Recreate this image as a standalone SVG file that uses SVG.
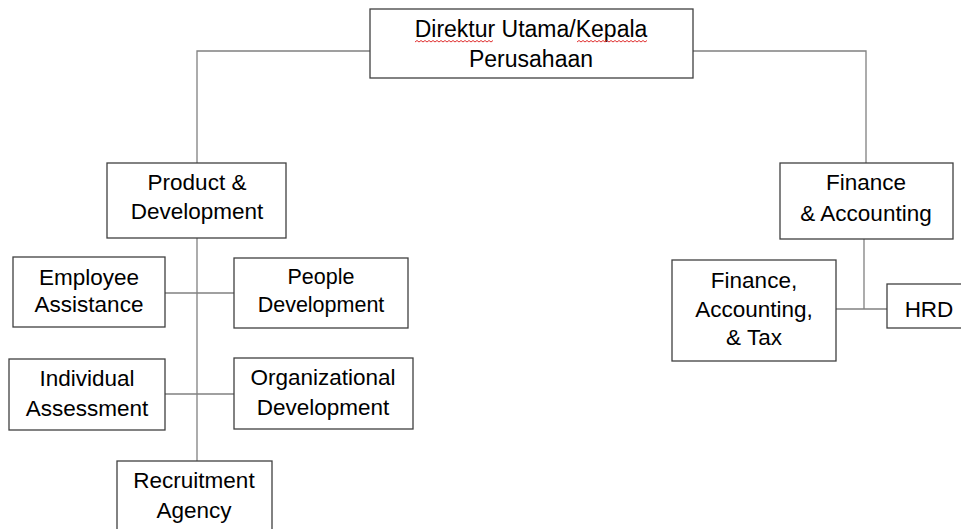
<svg xmlns="http://www.w3.org/2000/svg" width="961" height="529" viewBox="0 0 961 529">
<defs>
<style>
.box{fill:#ffffff;stroke:#404040;stroke-width:1.3}
.con{fill:none;stroke:#808080;stroke-width:1.3}
.t{font-family:"Liberation Sans",Arial,sans-serif;font-size:22.5px;fill:#000000;text-anchor:middle}
.sq{fill:none;stroke:#e03030;stroke-width:1}
</style>
</defs>
<rect width="961" height="529" fill="#ffffff"/>
<g id="connectors">
<path class="con" d="M370 51 H197 V163"/>
<path class="con" d="M693 51 H866 V163"/>
<path class="con" d="M197 238 V461"/>
<path class="con" d="M165 293 H234"/>
<path class="con" d="M165 394 H234"/>
<path class="con" d="M864 239 V309"/>
<path class="con" d="M836 309 H887"/>
</g>
<g id="direktur">
<rect class="box" x="370" y="9" width="323" height="69"/>
<text class="t" x="531" y="37" style="font-size:23px">Direktur Utama/Kepala</text>
<text class="t" x="531" y="67" style="font-size:23px">Perusahaan</text>
<path class="sq" d="M415 42 l2 -1.5 l2 1.5 l2 -1.5 l2 1.5 l2 -1.5 l2 1.5 l2 -1.5 l2 1.5 l2 -1.5 l2 1.5 l2 -1.5 l2 1.5 l2 -1.5 l2 1.5 l2 -1.5 l2 1.5 l2 -1.5 l2 1.5 l2 -1.5 l2 1.5 l2 -1.5 l2 1.5 l2 -1.5 l2 1.5 l2 -1.5 l2 1.5 l2 -1.5 l2 1.5 l2 -1.5 l2 1.5 l2 -1.5 l2 1.5 l2 -1.5 l2 1.5 l2 -1.5 l2 1.5 l2 -1.5 l2 1.5 l2 -1.5"/>
<path class="sq" d="M577 42 l2 -1.5 l2 1.5 l2 -1.5 l2 1.5 l2 -1.5 l2 1.5 l2 -1.5 l2 1.5 l2 -1.5 l2 1.5 l2 -1.5 l2 1.5 l2 -1.5 l2 1.5 l2 -1.5 l2 1.5 l2 -1.5 l2 1.5 l2 -1.5 l2 1.5 l2 -1.5 l2 1.5 l2 -1.5 l2 1.5 l2 -1.5 l2 1.5 l2 -1.5 l2 1.5 l2 -1.5 l2 1.5 l2 -1.5 l2 1.5 l2 -1.5 l2 1.5 l2 -1.5"/>
</g>
<g id="product">
<rect class="box" x="107" y="163" width="179" height="75"/>
<text class="t" x="197" y="190">Product &amp;</text>
<text class="t" x="197" y="219">Development</text>
</g>
<g id="employee">
<rect class="box" x="13" y="257" width="152" height="70"/>
<text class="t" x="89" y="285">Employee</text>
<text class="t" x="89" y="312">Assistance</text>
</g>
<g id="people">
<rect class="box" x="234" y="258" width="174" height="70"/>
<text class="t" x="321" y="284" style="font-size:21.5px">People</text>
<text class="t" x="321" y="312" style="font-size:21.5px">Development</text>
</g>
<g id="individual">
<rect class="box" x="9" y="359" width="156" height="71"/>
<text class="t" x="87" y="386">Individual</text>
<text class="t" x="87" y="416">Assessment</text>
</g>
<g id="organizational">
<rect class="box" x="234" y="358" width="179" height="71"/>
<text class="t" x="323" y="385">Organizational</text>
<text class="t" x="323" y="415">Development</text>
</g>
<g id="recruitment">
<rect class="box" x="117" y="461" width="155" height="80"/>
<text class="t" x="194" y="488">Recruitment</text>
<text class="t" x="194" y="518">Agency</text>
</g>
<g id="finance">
<rect class="box" x="780" y="163" width="173" height="76"/>
<text class="t" x="866" y="190">Finance</text>
<text class="t" x="866" y="221">&amp; Accounting</text>
</g>
<g id="fat">
<rect class="box" x="672" y="260" width="164" height="101"/>
<text class="t" x="754" y="288">Finance,</text>
<text class="t" x="754" y="317">Accounting,</text>
<text class="t" x="754" y="345">&amp; Tax</text>
</g>
<g id="hrd">
<rect class="box" x="887" y="284" width="80" height="44"/>
<text class="t" x="929" y="317">HRD</text>
</g>
</svg>
